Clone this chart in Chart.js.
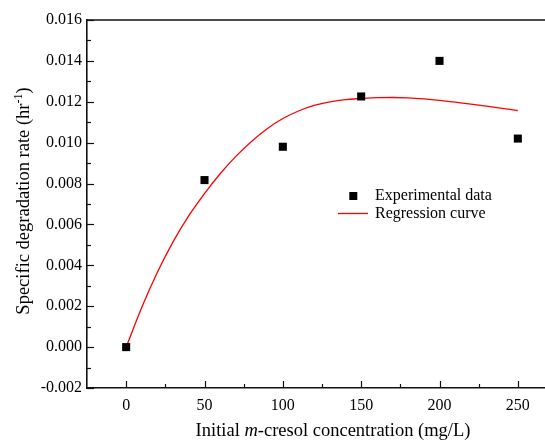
<!DOCTYPE html>
<html><head><meta charset="utf-8">
<style>html,body{margin:0;padding:0;overflow:hidden;background:#fff}#wrap{width:600px;height:440px;position:relative}</style>
<script src="https://cdn.jsdelivr.net/npm/chart.js@4/dist/chart.umd.min.js"></script>
</head><body><div id="wrap"><canvas id="c"></canvas></div>
<script>
const concentrations = [0, 50, 100, 150, 200, 250];
const experimentalRates = [0.0000, 0.00817, 0.0098, 0.01226, 0.0140, 0.0102];
const curveConcentrations = [0,10,20,30,40,50,60,70,80,90,100,110,120,130,140,150,160,170,180,190,200,210,220,230,240,250];
const curveRates = [0,0.00195,0.00367,0.00516,0.00643,0.00751,0.00848,0.00933,0.01006,0.01068,0.01118,0.01155,0.01182,0.012,0.01211,0.01216,0.0122,0.01221,0.01219,0.01214,0.01207,0.01198,0.01189,0.01179,0.01168,0.01157];
const xTicks = [0, 50, 100, 150, 200, 250];
const xMinorTicks = [25, 75, 125, 175, 225];
const yTicks = [-0.002, 0, 0.002, 0.004, 0.006, 0.008, 0.010, 0.012, 0.014, 0.016];
const yMinorTicks = [-0.001, 0.001, 0.003, 0.005, 0.007, 0.009, 0.011, 0.013, 0.015];
const legendLabels = ['Experimental data', 'Regression curve'];

const FONT = "'Liberation Serif','Times New Roman',serif";
Chart.defaults.font.family = FONT;
Chart.defaults.color = '#000';

const decor = {
  id: 'decor',
  afterDraw(chart) {
    const ctx = chart.ctx, ca = chart.chartArea;
    const xs = chart.scales.x, ys = chart.scales.y;
    ctx.save();
    ctx.strokeStyle = '#111';
    ctx.lineWidth = 1.6;
    ctx.beginPath(); ctx.moveTo(ca.left, ca.top); ctx.lineTo(ca.right, ca.top); ctx.stroke();
    ctx.lineWidth = 1.2;
    const xt = (v, len) => { const p = Math.round(xs.getPixelForValue(v)) + 0.5; ctx.beginPath(); ctx.moveTo(p, ca.bottom); ctx.lineTo(p, ca.bottom - len); ctx.stroke(); };
    xTicks.forEach(v => xt(v, 7)); xMinorTicks.forEach(v => xt(v, 4));
    const yt = (v, len) => { const p = Math.round(ys.getPixelForValue(v)) + 0.5; ctx.beginPath(); ctx.moveTo(ca.left, p); ctx.lineTo(ca.left + len, p); ctx.stroke(); };
    yTicks.forEach(v => yt(v, 7)); yMinorTicks.forEach(v => yt(v, 4));

    ctx.fillStyle = '#000';
    const f = "18.5px " + FONT, fi = "italic 18.5px " + FONT;
    const parts = [['Initial ', f], ['m', fi], ['-cresol concentration (mg/L)', f]];
    let total = 0; parts.forEach(p => { ctx.font = p[1]; total += ctx.measureText(p[0]).width; });
    let x = 333 - total / 2;
    ctx.textBaseline = 'alphabetic'; ctx.textAlign = 'left';
    parts.forEach(p => { ctx.font = p[1]; ctx.fillText(p[0], x, 436); x += ctx.measureText(p[0]).width; });

    ctx.save();
    ctx.translate(29, 201); ctx.rotate(-Math.PI / 2);
    const ya = 'Specific degradation rate (hr', yb = '-1', yc = ')';
    const fs = "12px " + FONT;
    ctx.font = f; const wa = ctx.measureText(ya).width, wc = ctx.measureText(yc).width;
    ctx.font = fs; const wb = ctx.measureText(yb).width;
    let yx = -(wa + wb + wc) / 2;
    ctx.font = f; ctx.fillText(ya, yx, 0); yx += wa;
    ctx.font = fs; ctx.fillText(yb, yx, -7.5); yx += wb;
    ctx.font = f; ctx.fillText(yc, yx, 0);
    ctx.restore();

    ctx.fillStyle = '#000';
    ctx.fillRect(349.3, 192, 8, 8);
    ctx.strokeStyle = '#ff0000'; ctx.lineWidth = 1.3;
    ctx.beginPath(); ctx.moveTo(338, 213.5); ctx.lineTo(368, 213.5); ctx.stroke();
    ctx.font = "16px " + FONT; ctx.textBaseline = 'middle';
    ctx.fillText(legendLabels[0], 375, 196);
    ctx.fillText(legendLabels[1], 375, 214);
    ctx.restore();
  }
};

new Chart(document.getElementById('c'), {
  type: 'scatter',
  data: {
    datasets: [
      {
        label: legendLabels[0],
        data: concentrations.map((c, i) => ({ x: c, y: experimentalRates[i] })),
        pointStyle: 'rect', pointRadius: 5.7, pointBorderWidth: 0,
        backgroundColor: '#000', borderColor: '#000', showLine: false
      },
      {
        label: legendLabels[1],
        data: curveConcentrations.map((c, i) => ({ x: c, y: curveRates[i] })),
        showLine: true, pointRadius: 0, borderColor: '#ff0000', borderWidth: 1.3,
        cubicInterpolationMode: 'monotone', fill: false
      }
    ]
  },
  options: {
    responsive: true, maintainAspectRatio: false, animation: false,
    devicePixelRatio: 1,
    layout: { padding: { top: 20, right: 43, left: 0, bottom: 0 } },
    plugins: { legend: { display: false }, tooltip: { enabled: false } },
    scales: {
      x: {
        type: 'linear', min: -25, max: 275,
        afterBuildTicks: s => { s.ticks = xTicks.map(v => ({ value: v })); },
        afterFit: s => { s.height = 52; },
        grid: { display: false, drawTicks: false },
        border: { display: true, color: '#111', width: 1.6 },
        ticks: { padding: 8, color: '#000', font: { family: FONT, size: 16 }, maxRotation: 0, autoSkip: false, callback: v => String(v) }
      },
      y: {
        type: 'linear', min: -0.002, max: 0.016,
        afterBuildTicks: s => { s.ticks = yTicks.map(v => ({ value: v })); },
        afterFit: s => { s.width = 87; },
        grid: { display: false, drawTicks: false },
        border: { display: true, color: '#111', width: 1.6 },
        ticks: { padding: 5, color: '#000', font: { family: FONT, size: 16 }, autoSkip: false, callback: v => v.toFixed(3) }
      }
    }
  },
  plugins: [decor]
});
</script>
</body></html>
